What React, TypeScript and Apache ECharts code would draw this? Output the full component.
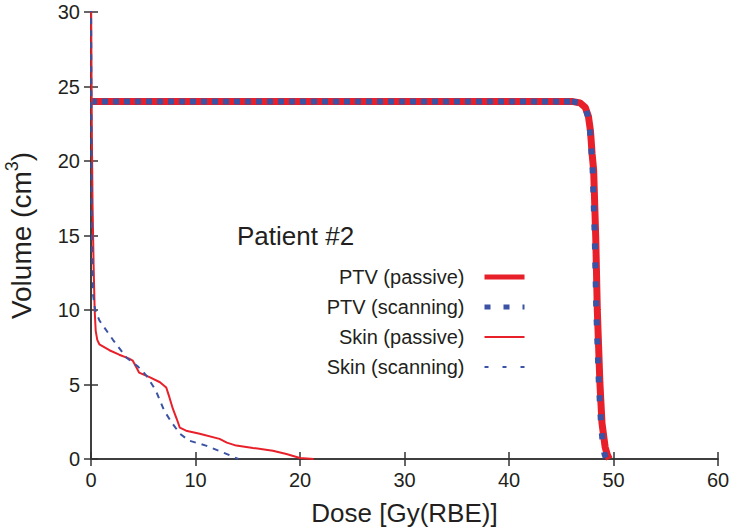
import React, { useEffect, useRef } from "react";
import * as echarts from "echarts";

const xTicks = [0, 10, 20, 30, 40, 50, 60];
const yTicks = [0, 5, 10, 15, 20, 25, 30];

const ptvPassiveDose = [0, 46, 46.8, 47.3, 47.6, 47.8, 47.95, 48.1, 48.3, 48.45, 48.7, 48.9, 49.2, 49.4, 49.6];
const ptvPassiveVol = [24, 24, 23.9, 23.6, 23.0, 22.0, 20.5, 19.4, 14.9, 10.0, 5.1, 2.4, 0.8, 0.3, 0];

const ptvScanDose = [0, 46, 46.8, 47.3, 47.55, 47.75, 47.9, 48.0, 48.2, 48.35, 48.6, 48.8, 49.0, 49.15, 49.3];
const ptvScanVol = [24, 24, 23.9, 23.6, 23.0, 22.0, 20.5, 19.4, 15.0, 10.0, 5.0, 2.4, 0.8, 0.3, 0];

const skinPassiveDose = [0, 0.08, 0.15, 0.25, 0.35, 0.45, 0.6, 0.8, 1.76, 2.7, 3.6, 4.0, 4.3, 4.6, 5.6, 6.6, 7.2, 7.5, 7.84, 8.2, 8.5, 9.1, 10.4, 12.3, 13, 13.9, 15.5, 17.4, 18.7, 20, 21.3];
const skinPassiveVol = [32, 22, 17, 13, 10, 8.6, 8.0, 7.7, 7.3, 7.0, 6.75, 6.6, 6.2, 5.8, 5.5, 5.15, 4.8, 4.15, 3.36, 2.7, 2.1, 1.9, 1.7, 1.35, 1.1, 0.9, 0.74, 0.56, 0.34, 0.07, 0];

const skinScanDose = [0, 0.05, 0.1, 0.2, 0.4, 0.8, 2.1, 3.4, 4.5, 5.3, 6.2, 7.0, 7.7, 8.5, 9.4, 11, 12.6, 14.1];
const skinScanVol = [32, 20, 14, 11, 10, 9.3, 8.0, 6.8, 6.2, 5.6, 4.6, 3.25, 2.47, 1.7, 1.23, 0.9, 0.45, 0];

const seriesNames = ["PTV (passive)", "PTV (scanning)", "Skin (passive)", "Skin (scanning)"];
const titleText = "Patient #2";

const RED = "#e8202a";
const BLUE = "#3a53a4";
const FONT = "Liberation Sans, Arial, Helvetica, sans-serif";
const TXT = "#231f20";

const pairs = (xs: number[], ys: number[]) => xs.map((x, i) => [x, ys[i]]);

export default function App() {
  const ref = useRef<HTMLDivElement>(null);
  useEffect(() => {
    if (!ref.current) return;
    const chart = echarts.init(ref.current, null, { renderer: "svg" });
    const scanAll = pairs(ptvScanDose, ptvScanVol);
    const flatEnd = ptvScanDose.indexOf(46);
    const scanFlat = scanAll.slice(0, flatEnd + 1);
    const scanCurve = scanAll.slice(flatEnd);

    const axisCommon = {
      type: "value" as const,
      axisLine: { show: true, lineStyle: { color: "#333", width: 1.5 } },
      axisTick: { show: true, inside: true, length: 7, lineStyle: { color: "#333", width: 1.5 } },
      splitLine: { show: false },
    };
    const hidden = { opacity: 0, color: "transparent", borderWidth: 0 };

    chart.setOption({
      animation: false,
      backgroundColor: "#fff",
      grid: { left: 91, right: 13, top: 12, bottom: 71, containLabel: false, outerBoundsMode: "none" },
      legend: {
        orient: "vertical",
        align: "right",
        right: 204,
        top: 267,
        padding: 0,
        itemWidth: 40,
        itemHeight: 14,
        itemGap: 10,
        selectedMode: false,
        textStyle: { fontSize: 20, fontFamily: FONT, color: TXT, lineHeight: 20, padding: [0, 15, 0, 0] },
        data: [
          { name: seriesNames[0], itemStyle: hidden, lineStyle: { width: 5, color: RED, type: "solid" } },
          { name: seriesNames[1], itemStyle: hidden, lineStyle: { width: 5, color: BLUE, type: [6, 13] } },
          { name: seriesNames[2], itemStyle: hidden, lineStyle: { width: 2, color: RED, type: "solid" } },
          { name: seriesNames[3], itemStyle: hidden, lineStyle: { width: 2, color: BLUE, type: [4, 14] } },
        ],
      },
      graphic: [
        {
          type: "text",
          left: 237,
          top: 223,
          style: { text: titleText, fontSize: 26, fontFamily: FONT, fill: TXT },
        },
      ],
      xAxis: [
        {
          ...axisCommon,
          min: 0,
          max: 60,
          interval: 10,
          name: "Dose [Gy(RBE)]",
          nameLocation: "middle",
          nameGap: 41,
          nameTextStyle: { fontSize: 26, fontFamily: FONT, color: TXT },
          axisLabel: { fontSize: 20, fontFamily: FONT, color: TXT, margin: 11 },
        },
        {
          ...axisCommon,
          position: "top",
          min: 0,
          max: 60,
          interval: 10,
          axisLabel: { show: false },
        },
      ],
      yAxis: [
        {
          ...axisCommon,
          min: 0,
          max: 30,
          interval: 5,
          name: "{a|Volume (cm}{s|3}{a|)}",
          nameLocation: "middle",
          nameGap: 56,
          nameTextStyle: {
            fontFamily: FONT,
            color: TXT,
            rich: {
              a: { fontSize: 28, fontFamily: FONT, color: TXT, lineHeight: 32, verticalAlign: "bottom" },
              s: { fontSize: 18, fontFamily: FONT, color: TXT, lineHeight: 32, verticalAlign: "top" },
            },
          },
          axisLabel: { fontSize: 20, fontFamily: FONT, color: TXT, margin: 11 },
        },
        {
          ...axisCommon,
          position: "right",
          min: 0,
          max: 30,
          interval: 5,
          axisLabel: { show: false },
        },
      ],
      series: [
        {
          name: seriesNames[0],
          type: "line",
          showSymbol: false,
          symbol: "none",
          data: pairs(ptvPassiveDose, ptvPassiveVol),
          lineStyle: { color: RED, width: 7 },
          itemStyle: { color: RED },
          z: 2,
        },
        {
          name: seriesNames[1],
          type: "line",
          showSymbol: false,
          symbol: "none",
          data: scanCurve,
          lineStyle: { color: BLUE, width: 6, type: [6, 13] },
          itemStyle: { color: BLUE },
          z: 3,
        },
        {
          name: seriesNames[1],
          type: "line",
          showSymbol: false,
          symbol: "none",
          data: scanFlat,
          lineStyle: { color: BLUE, width: 6, type: [6, 5] },
          itemStyle: { color: BLUE },
          z: 3,
        },
        {
          name: seriesNames[2],
          type: "line",
          showSymbol: false,
          symbol: "none",
          data: pairs(skinPassiveDose, skinPassiveVol),
          lineStyle: { color: RED, width: 2 },
          itemStyle: { color: RED },
          z: 4,
        },
        {
          name: seriesNames[3],
          type: "line",
          showSymbol: false,
          symbol: "none",
          data: pairs(skinScanDose, skinScanVol),
          lineStyle: { color: BLUE, width: 2, type: [6, 6] },
          itemStyle: { color: BLUE },
          z: 4,
        },
      ],
    });
    return () => chart.dispose();
  }, []);
  return <div ref={ref} style={{ width: 731, height: 530, position: "absolute", left: 0, top: 0 }} />;
}
